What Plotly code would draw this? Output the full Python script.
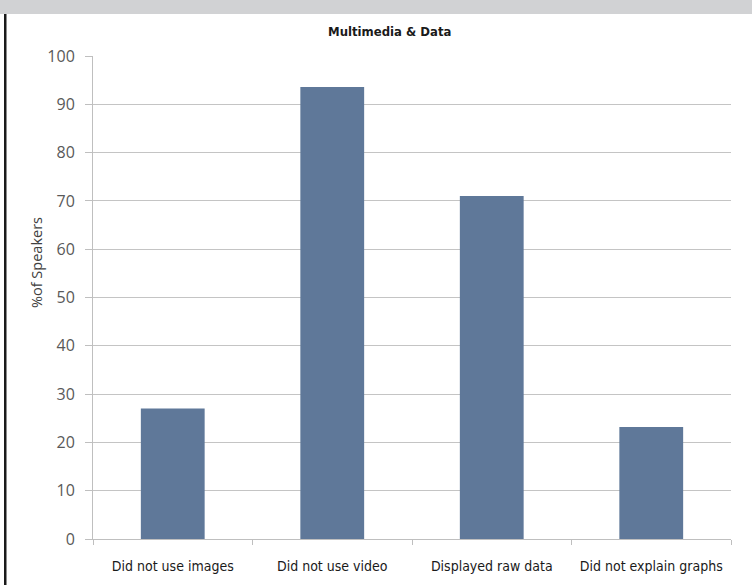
import plotly.graph_objects as go

# Share of speakers per multimedia / data habit
categories = ["Did not use images", "Did not use video", "Displayed raw data", "Did not explain graphs"]
percent_of_speakers = [27, 93.6, 71, 23.2]
y_ticks = [0, 10, 20, 30, 40, 50, 60, 70, 80, 90, 100]

W, H = 752, 585
L, R, T, B = 93, 21, 56, 46

narrow = "DejaVu Sans Condensed, Liberation Sans Narrow, Roboto, sans-serif"
body = "Open Sans, DejaVu Sans, sans-serif"

fig = go.Figure(
    go.Bar(
        x=categories,
        y=percent_of_speakers,
        marker=dict(color="#5f7899", line=dict(width=0)),
        width=0.4,
        hoverinfo="x+y",
    )
)

fig.update_layout(
    width=W,
    height=H,
    margin=dict(l=L, r=R, t=T, b=B),
    paper_bgcolor="white",
    plot_bgcolor="white",
    showlegend=False,
    shapes=[
        # grey header band
        dict(type="rect", xref="paper", yref="paper",
             x0=-L / (W - L - R), x1=1 + R / (W - L - R),
             y0=1 + (T - 14) / (H - T - B), y1=1 + T / (H - T - B),
             fillcolor="#d1d2d4", line=dict(width=0), layer="below"),
        # dark left frame edge
        dict(type="rect", xref="paper", yref="paper",
             x0=-(L - 4) / (W - L - R), x1=-(L - 6.5) / (W - L - R),
             y0=-B / (H - T - B), y1=1 + (T - 14) / (H - T - B),
             fillcolor="#1a1a1a", line=dict(width=0)),
    ],
    annotations=[
        dict(text="<b>Multimedia &amp; Data</b>", xref="paper", yref="paper",
             x=(389 - L) / (W - L - R), y=1 + (T - 32) / (H - T - B),
             xanchor="center", yanchor="middle", showarrow=False,
             font=dict(family=narrow, size=13, color="#1a1a1a")),
        dict(text="%of Speakers", xref="paper", yref="paper",
             x=-(L - 36) / (W - L - R), y=(539 - 263) / (H - T - B),
             xanchor="center", yanchor="middle", textangle=-90, showarrow=False,
             font=dict(family=body, size=14.5, color="#404040")),
    ],
)

fig.update_xaxes(
    showgrid=False,
    showline=True,
    linecolor="#bfbfbf",
    linewidth=1,
    ticks="outside",
    tickson="boundaries",
    ticklen=5,
    tickcolor="#bfbfbf",
    tickfont=dict(family=narrow, size=14, color="#1a1a1a"),
    ticklabelstandoff=14,
)

fig.update_yaxes(
    range=[0, 100],
    tickvals=y_ticks,
    showgrid=True,
    gridcolor="#c4c4c4",
    gridwidth=1,
    showline=True,
    linecolor="#bfbfbf",
    linewidth=1,
    ticks="outside",
    ticklen=7,
    tickcolor="#bfbfbf",
    tickfont=dict(family=body, size=16, color="#595959"),
    ticklabelstandoff=7,
    zeroline=False,
)

fig.write_html("out.html")
